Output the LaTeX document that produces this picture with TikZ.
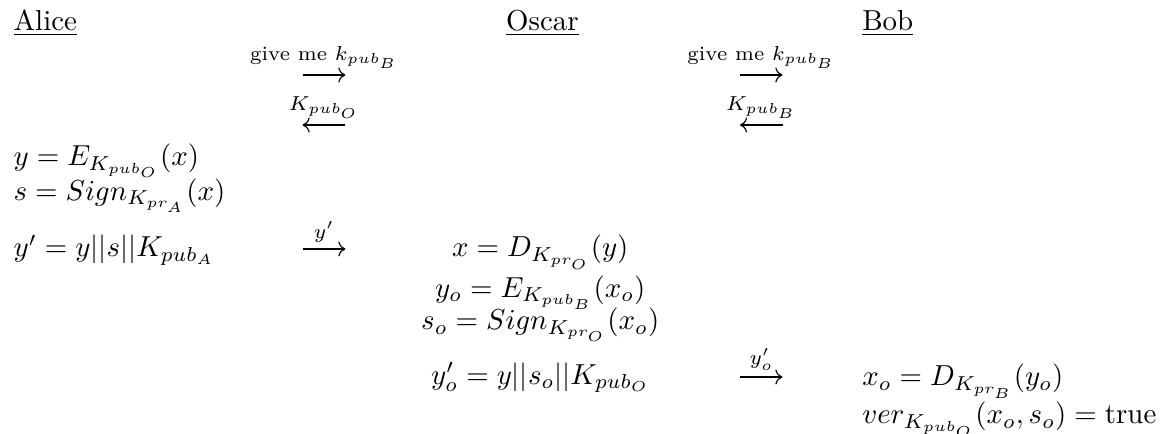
\documentclass[tikz,border=0pt]{standalone}
\usepackage{amsmath,amssymb}
\usepackage{tikz}
\usetikzlibrary{arrows.meta}

\begin{document}
\begin{tikzpicture}[
		party/.style={anchor=base, inner sep=0pt},
		eqleft/.style={anchor=base west, inner sep=0pt},
		eqmid/.style={anchor=base, inner sep=0pt},
		msg/.style={-{Computer Modern Rightarrow}, line width=0.4pt},
		lbl/.style={above, inner sep=2pt}
		]
		\useasboundingbox (0,0) rectangle (14.18,-5.266);
		
		% Parties
		\node[party, anchor=base west] (alice) at (0.158, -0.365) {\underline{Alice}};
		\node[party] (oscar) at (6.597, -0.365) {\underline{Oscar}};
		\node[party, anchor=base west] (bob) at (10.479, -0.365) {\underline{Bob}};
		
		% Key request and key reply
		\coordinate (req1s) at (3.679, -0.912);
		\coordinate (req1e) at (4.201, -0.912);
		\coordinate (rep1s) at (4.201, -1.520);
		\coordinate (rep1e) at (3.679, -1.520);
		\coordinate (req2s) at (8.999, -0.912);
		\coordinate (req2e) at (9.516, -0.912);
		\coordinate (rep2s) at (9.516, -1.520);
		\coordinate (rep2e) at (8.999, -1.520);
		
		\draw[msg] (req1s) -- node[lbl] (req1) {$\scriptstyle\text{give me }k_{pub_B}$} (req1e);
		\draw[msg] (rep1s) -- node[lbl] (rep1) {$\scriptstyle K_{pub_O}$} (rep1e);
		\draw[msg] (req2s) -- node[lbl] (req2) {$\scriptstyle\text{give me }k_{pub_B}$} (req2e);
		\draw[msg] (rep2s) -- node[lbl] (rep2) {$\scriptstyle K_{pub_B}$} (rep2e);
		
		% Column 1: Alice
		\node[eqleft] (encA) at (0.158, -2.015) {$y = E_{K_{pub_O}}(x)$};
		\node[eqleft] (sigA) at (0.158, -2.44) {$s = Sign_{K_{pr_A}}(x)$};
		\node[eqleft] (msgA) at (0.158, -3.125) {$y' = y||s||K_{pub_A}$};
		
		% Column 2: Oscar
		\node[eqmid] (decO) at (6.57, -3.125) {$x = D_{K_{pr_O}}(y)$};
		\node[eqmid] (encO) at (6.57, -3.612) {$y_o = E_{K_{pub_B}}(x_o)$};
		\node[eqmid] (sigO) at (6.57, -4.01) {$s_o = Sign_{K_{pr_O}}(x_o)$};
		\node[eqmid] (msgO) at (6.57, -4.670) {$y'_o = y||s_o||K_{pub_O}$};
		
		% Column 3: Bob
		\node[eqleft] (decB) at (10.479, -4.694) {$x_o = D_{K_{pr_B}}(y_o)$};
		\node[eqleft] (verB) at (10.479, -5.156) {$ver_{K_{pub_O}}(x_o, s_o) = \text{true}$};
		
		% Messages
		\coordinate (m1s) at (3.679, -3.028);
		\coordinate (m1e) at (4.201, -3.028);
		\coordinate (m2s) at (8.999, -4.585);
		\coordinate (m2e) at (9.516, -4.585);
		\draw[msg] (m1s) -- node[lbl] (m1) {$\scriptstyle y'$} (m1e);
		\draw[msg] (m2s) -- node[lbl] (m2) {$\scriptstyle y'_o$} (m2e);
\end{tikzpicture}
\end{document}
